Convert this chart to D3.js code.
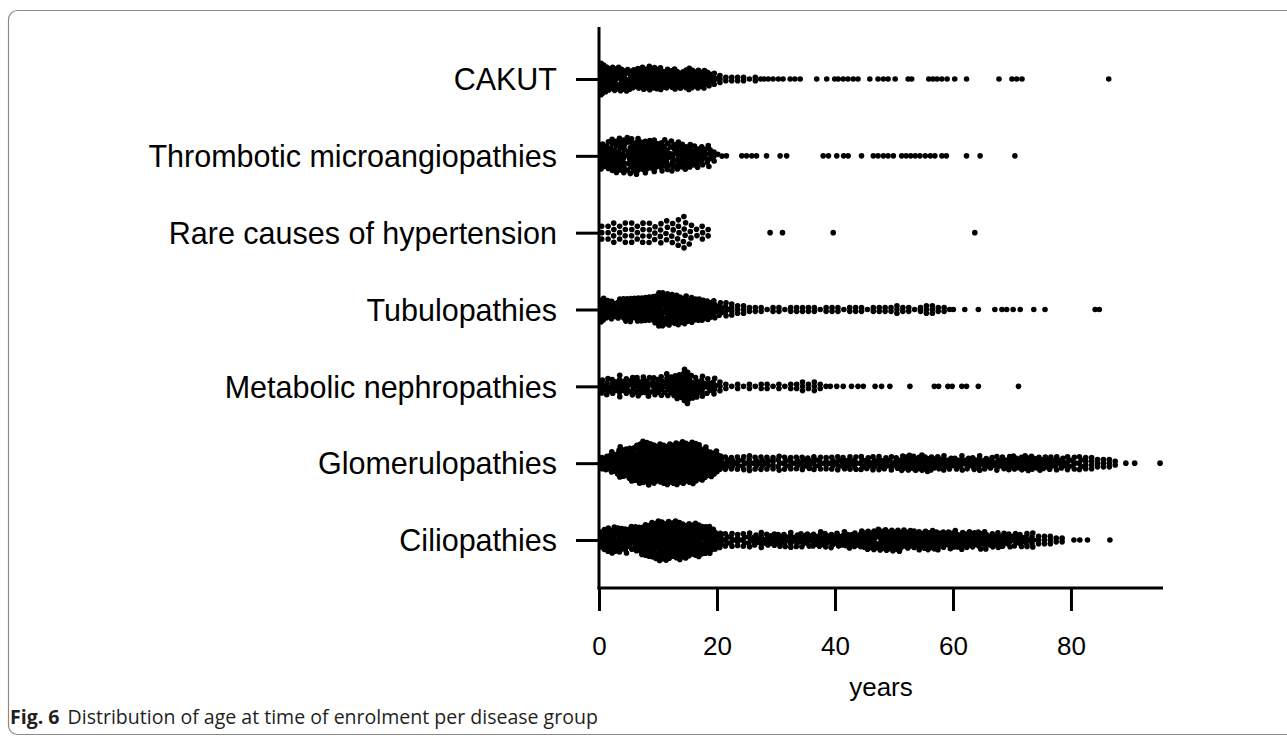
<!DOCTYPE html>
<html><head><meta charset="utf-8">
<script src="https://cdn.jsdelivr.net/npm/d3@7"></script>
<style>body{margin:0;background:#fff}svg{display:block}</style>
</head><body>
<svg id="chart" width="1287" height="739"></svg>
<script>
// ---------- DATA ----------
const categories = ["CAKUT", "Thrombotic microangiopathies", "Rare causes of hypertension",
  "Tubulopathies", "Metabolic nephropathies", "Glomerulopathies", "Ciliopathies"];
const xTicks = [0, 20, 40, 60, 80];
const xTitle = "years";
const captionBold = "Fig. 6";
const captionText = "Distribution of age at time of enrolment per disease group";

// patients per 1-year age bin, starting at age 0 (dense part of each swarm)
const cakutCounts = [24,15,14,13,12,12,11,12,12,13,12,11,10,10,11,12,12,11,8,5,3,2,2,2,2,1,2,1];
// individual ages of the sparse tail
const cakutTail = [27.9,28.7,29.5,30.4,31.2,32.4,33.2,34.1,36.9,38.6,40.0,40.5,41.4,42.2,43.1,43.9,45.9,47.3,48.2,49.0,50.2,52.4,53.0,55.9,56.6,57.3,58.1,59.0,60.3,62.3,67.8,70.0,70.8,71.7,86.4];

const thromboCounts = [8,12,12,13,12,12,13,12,11,12,9,10,9,10,9,8,8,8,6,3];
const thromboTail = [19.9,20.8,21.6,24.2,25.0,25.9,26.7,28.4,30.7,31.8,38.0,38.9,40.3,41.7,42.0,44.5,46.5,47.3,48.2,49.0,49.9,51.3,52.2,52.7,53.6,54.4,55.3,56.4,56.7,58.4,58.6,62.3,64.6,70.5];

const rareCounts = [3,3,4,3,4,4,3,4,4,3,4,4,4,5,7,3,2,3,2];
const rareTail = [29.0,31.1,39.7,63.7];

const tubuloCounts = [14,9,9,10,11,12,12,12,12,12,21,19,15,15,14,12,11,10,10,7,6,5,4,3,3,
  2,2,2,1,2,2,1,2,2,2,2,2,1,2,2,2,1,2,2,2,1,2,2,2,2,3,2,2,1,2,3,3,2,2,1];
const tubuloTail = [60.0,62.0,64.3,67.1,68.3,69.1,70.2,71.4,73.7,75.6,84.1,84.8];

const metabolicCounts = [5,6,7,6,7,7,6,7,6,7,7,8,8,9,17,9,7,7,6,5,3,2,1,2,1,2,1,2,2,1,2,1,2,2,3,2,3,2,1];
const metabolicTail = [39.2,40.3,41.4,42.8,43.9,44.8,46.8,47.9,49.3,52.7,56.9,57.5,59.2,59.8,61.5,62.3,64.3,71.1];

const glomCounts = [4,6,10,14,16,17,18,21,21,22,21,22,22,23,22,22,22,20,13,9,6,5,5,5,5,5,5,5,
  5,4,5,5,4,5,5,6,5,5,4,5,5,6,5,5,5,6,5,5,6,5,6,6,
  8,8,9,8,7,
  6,5,6,6,5,6,6,5,6,6,5,6,6,
  7,7,8,7,7,
  6,6,5,6,5,5,5,
  4,4,3,3,3,2];
const glomTail = [89.3,90.8,95.1];

const ciliCounts = [7,13,13,12,12,11,12,12,19,20,21,20,19,20,19,16,17,16,15,7,5,5,5,4,5,5,
  6,5,6,7,6,6,5,6,7,6,7,6,7,7,6,7,7,7,8,9,
  10,11,10,10,11,10,10,9,9,10,9,9,
  8,8,9,8,8,8,8,8,7,
  7,6,6,6,6,5,5,3,3,3,2,2];
const ciliTail = [80.5,81.5,82.8,86.6];

// ---------- LAYOUT / STYLE ----------
const spread = [1.75, 2.25, 3.2, 1.85, 2.15, 1.85, 1.85]; // collision radius per row (style)
const dotR = 2.8;
const font = "'Liberation Sans', Arial, Helvetica, sans-serif";

const groups = [
  {counts: cakutCounts, tail: cakutTail},
  {counts: thromboCounts, tail: thromboTail},
  {counts: rareCounts, tail: rareTail},
  {counts: tubuloCounts, tail: tubuloTail},
  {counts: metabolicCounts, tail: metabolicTail},
  {counts: glomCounts, tail: glomTail},
  {counts: ciliCounts, tail: ciliTail}
].map((g, i) => ({...g, name: categories[i], gi: i}));

const svg = d3.select("#chart");
const axisX0 = 599, axisX1 = 1163, axisY = 588, axisTop = 27;

const x = d3.scaleLinear().domain([0, 95.6]).range([axisX0, axisX1]);
const y = d3.scalePoint().domain(categories).range([79, 540]);

// frame
svg.append("rect").attr("x", 8.5).attr("y", 10.5).attr("width", 1300).attr("height", 724)
  .attr("rx", 9).attr("fill", "none").attr("stroke", "#8a8a8a").attr("stroke-width", 1.2);

// nodes
const nodes = [];
groups.forEach(g => {
  g.counts.forEach((c, bin) => {
    for (let j = 0; j < c; j++) nodes.push({gi: g.gi, group: g.name, age: bin + 0.5, k: j});
  });
  g.tail.forEach(a => nodes.push({gi: g.gi, group: g.name, age: a, k: 0}));
});
nodes.forEach(n => {
  n.tx = x(n.age); n.ty = y(n.group);
  n.x = n.tx;
  n.y = n.ty + (n.k % 2 ? 1 : -1) * n.k * 0.6;
});
const sim = d3.forceSimulation(nodes)
  .force("x", d3.forceX(d => d.tx).strength(0.2))
  .force("y", d3.forceY(d => d.ty).strength(0.04))
  .force("collide", d3.forceCollide(d => spread[d.gi]).iterations(3))
  .stop();
for (let i = 0; i < 320; i++) sim.tick();
nodes.forEach(n => { if (n.x < axisX0 + 2) n.x = axisX0 + 2; });

svg.append("g").selectAll("circle").data(nodes).join("circle")
  .attr("cx", d => d.x).attr("cy", d => d.y).attr("r", dotR).attr("fill", "#000");

// axes
const gx = svg.append("g").attr("transform", `translate(0,${axisY})`)
  .call(d3.axisBottom(x).tickValues(xTicks).tickSize(23).tickFormat(d3.format("d")));
gx.select(".domain").remove();
gx.selectAll(".tick line").attr("stroke", "#000").attr("stroke-width", 3);
gx.selectAll(".tick text").attr("font-family", font).attr("font-size", 26).attr("fill", "#000")
  .attr("y", 58).attr("dy", "0.35em");

const gy = svg.append("g").attr("transform", `translate(${axisX0},0)`)
  .call(d3.axisLeft(y).tickSize(23));
gy.select(".domain").remove();
gy.selectAll(".tick line").attr("stroke", "#000").attr("stroke-width", 3);
gy.selectAll(".tick text").attr("font-family", font).attr("font-size", 30.5).attr("fill", "#000")
  .attr("x", -42).attr("dy", "0.35em");

svg.append("line").attr("x1", axisX0).attr("x2", axisX0).attr("y1", axisTop).attr("y2", axisY + 1.5)
  .attr("stroke", "#000").attr("stroke-width", 3);
svg.append("line").attr("x1", axisX0 - 1.5).attr("x2", axisX1).attr("y1", axisY).attr("y2", axisY)
  .attr("stroke", "#000").attr("stroke-width", 3);

svg.append("text").attr("x", (axisX0 + axisX1) / 2).attr("y", 696).attr("text-anchor", "middle")
  .attr("font-family", font).attr("font-size", 26).attr("fill", "#000").text(xTitle);

// caption
const cap = svg.append("text").attr("x", 10).attr("y", 724)
  .attr("font-family", "'Open Sans', 'Noto Sans', sans-serif").attr("font-size", 16).attr("fill", "#231f20");
cap.append("tspan").attr("font-weight", "bold").text(captionBold);
cap.append("tspan").attr("dx", 8).text(captionText);
const len = cap.node().getComputedTextLength() + 8;
cap.attr("font-size", 16 * 590 / len);
</script>
</body></html>
